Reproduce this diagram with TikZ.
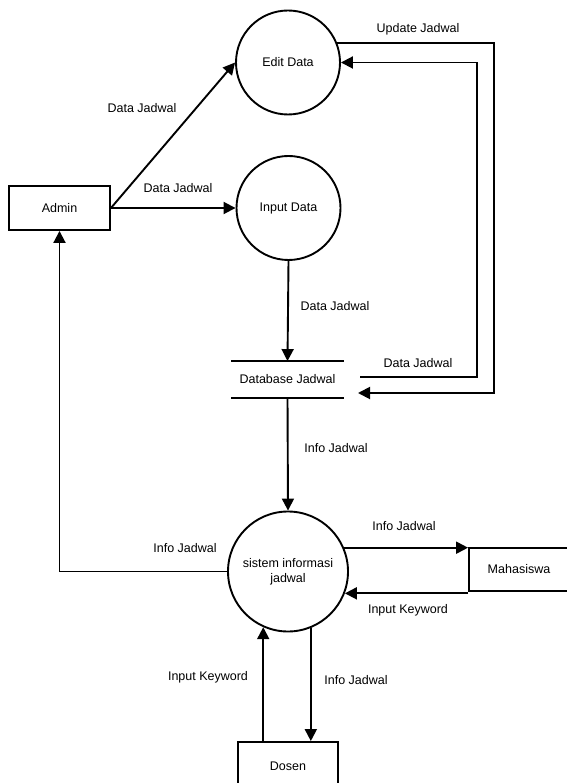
\documentclass[tikz,border=0pt]{standalone}
\usepackage{fontspec}
\setmainfont{Liberation Sans}
\usetikzlibrary{arrows.meta}
\begin{document}
\begin{tikzpicture}[x=1pt,y=-1pt,
  font=\fontsize{12.5}{16}\selectfont,
  line width=1.9pt,
  process/.style={draw,circle,inner sep=0pt,minimum size=#1},
  entity/.style={draw,rectangle,inner sep=0pt,minimum width=101pt,minimum height=44pt},
  flow/.style={-{Triangle[length=12pt,width=12pt]}},
  lbl/.style={inner sep=1pt}]
\useasboundingbox[fill=white] (0,0) rectangle (566,783);

% processes
\node[process=104pt] (edit) at (288,62.5) {Edit Data};
\node[process=104pt] (input) at (288.5,208) {Input Data};
\node[process=120pt,align=center] (sis) at (288,571.5) {sistem informasi\\[-1pt]jadwal};

% external entities
\node[entity] (admin) at (59.5,208) {Admin};
\node[entity,minimum width=100pt,minimum height=43pt] (maha) at (519,569.5) {Mahasiswa};
\node[entity,minimum width=100pt,minimum height=48pt] (dosen) at (288,766) {Dosen};

% data store
\node[minimum width=111pt,minimum height=35pt,inner sep=0pt] (db) at (287.5,379.5) {Database Jadwal};
\draw (db.north west) -- (db.north east);
\draw (db.south west) -- (db.south east);
\coordinate (dbin) at (358,393);
\coordinate (dbout) at (360,377);
\coordinate (outer) at (494,0);
\coordinate (inner) at (477,0);

% flows
\draw[flow] (admin.east) -- (edit.west);
\draw[flow] (admin.east) -- (input.west);
\draw[flow] (input.south) -- (db.north);
\draw[flow] (edit.22) -- (edit.22 -| outer) -- (outer |- dbin) -- (dbin);
\draw[flow] (dbout) -- (dbout -| inner) |- (edit.east);
\draw[flow] (db.south) -- (sis.north);
\draw[flow] (sis.west) -| (admin.south);
\draw[flow] (sis.23) -- (sis.23 -| maha.west);
\draw[flow] (sis.-21 -| maha.west) -- (sis.-21);
\draw[flow] (sis.-114 |- dosen.north) -- (sis.-114);
\draw[flow] (sis.-68) -- (sis.-68 |- dosen.north);

% flow labels
\node[lbl] (l1) at (142,108) {Data Jadwal};
\node[lbl] (l2) at (178,188) {Data Jadwal};
\node[lbl] (l3) at (418,29) {Update Jadwal};
\node[lbl] (l4) at (335,306) {Data Jadwal};
\node[lbl] (l5) at (418,363) {Data Jadwal};
\node[lbl] (l6) at (336,448) {Info Jadwal};
\node[lbl] (l7) at (185,548) {Info Jadwal};
\node[lbl] (l8) at (404,526) {Info Jadwal};
\node[lbl] (l9) at (408,610) {Input Keyword};
\node[lbl] (l10) at (208,677) {Input Keyword};
\node[lbl] (l11) at (356,680) {Info Jadwal};
\end{tikzpicture}
\end{document}
